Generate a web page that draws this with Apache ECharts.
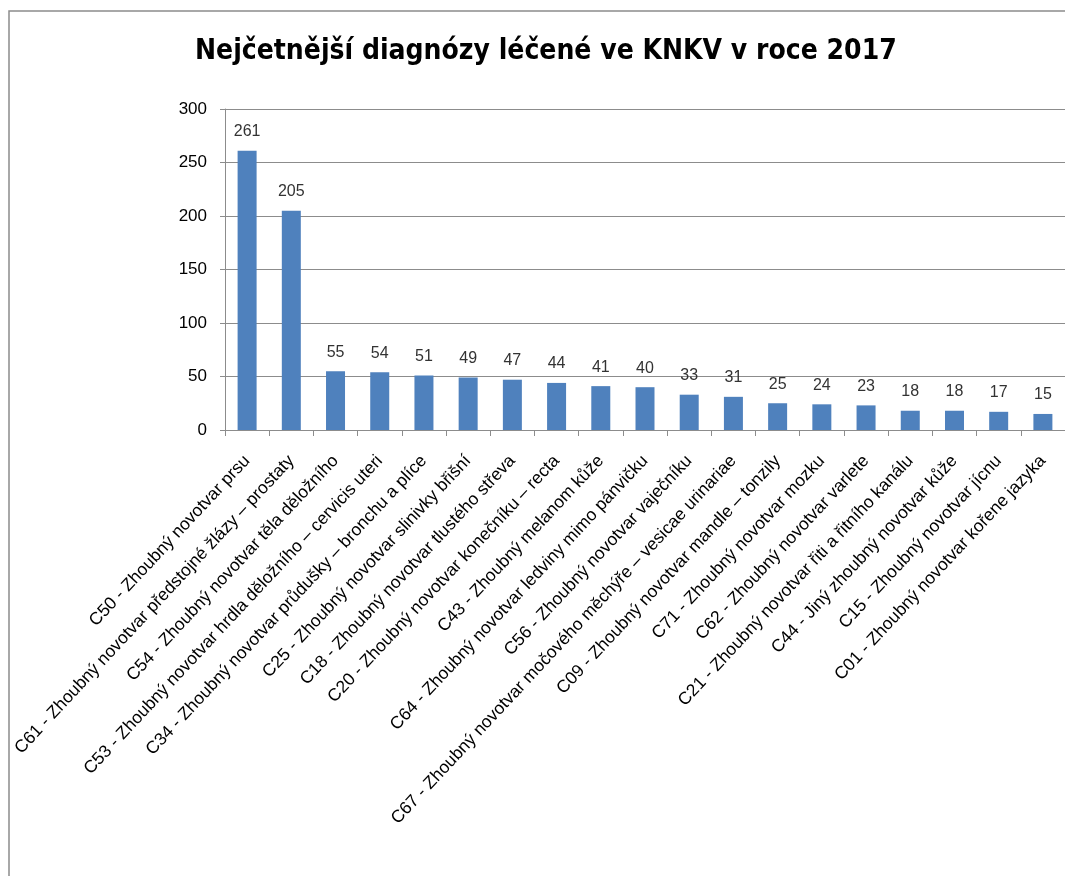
<!DOCTYPE html>
<html>
<head>
<meta charset="utf-8">
<script src="https://cdn.jsdelivr.net/npm/echarts@6/dist/echarts.min.js"></script>
<style>
  html, body { margin: 0; padding: 0; background: #fff; }
  #chart { width: 1065px; height: 876px; }
</style>
</head>
<body>
<div id="chart"></div>
<script>
const titleText = 'Nejčetnější diagnózy léčené ve KNKV v roce 2017';

const categories = [
  'C50 - Zhoubný novotvar prsu',
  'C61 - Zhoubný novotvar předstojné žlázy – prostaty',
  'C54 - Zhoubný novotvar těla děložního',
  'C53 - Zhoubný novotvar hrdla děložního – cervicis uteri',
  'C34 - Zhoubný novotvar průdušky – bronchu a plíce',
  'C25 - Zhoubný novotvar slinivky břišní',
  'C18 - Zhoubný novotvar tlustého střeva',
  'C20 - Zhoubný novotvar konečníku – recta',
  'C43 - Zhoubný melanom kůže',
  'C64 - Zhoubný novotvar ledviny mimo pánvičku',
  'C56 - Zhoubný novotvar vaječníku',
  'C67 - Zhoubný novotvar močového měchýře – vesicae urinariae',
  'C09 - Zhoubný novotvar mandle – tonzily',
  'C71 - Zhoubný novotvar mozku',
  'C62 - Zhoubný novotvar varlete',
  'C21 - Zhoubný novotvar řiti a řitního kanálu',
  'C44 - Jiný zhoubný novotvar kůže',
  'C15 - Zhoubný novotvar jícnu',
  'C01 - Zhoubný novotvar kořene jazyka'
];

const counts = [261, 205, 55, 54, 51, 49, 47, 44, 41, 40, 33, 31, 25, 24, 23, 18, 18, 17, 15];

const yTicks = { min: 0, max: 300, interval: 50 };

const TITLE_FONT = '"DejaVu Sans Condensed", "Liberation Sans", sans-serif';
const LABEL_FONT = '"Liberation Sans", "DejaVu Sans", sans-serif';

const chart = echarts.init(document.getElementById('chart'), null, { renderer: 'canvas' });

chart.setOption({
  backgroundColor: '#ffffff',
  animation: false,
  graphic: [
    {
      // chart-area frame
      type: 'rect',
      shape: { x: 9, y: 11, width: 1100, height: 900 },
      style: { fill: 'none', stroke: '#8c8c8c', lineWidth: 1.5 },
      silent: true,
      z: -1
    }
  ],
  title: {
    text: titleText,
    left: 190,
    top: 33,
    textStyle: {
      fontFamily: TITLE_FONT,
      fontWeight: 'bold',
      fontSize: 28,
      color: '#000'
    }
  },
  grid: {
    left: 225,
    right: -3,
    top: 109,
    bottom: 446,
    containLabel: false
  },
  xAxis: {
    type: 'category',
    data: categories,
    axisLine: { show: true, lineStyle: { color: '#8c8c8c', width: 1 } },
    axisTick: { show: true, alignWithLabel: false, length: 6, lineStyle: { color: '#8c8c8c' } },
    axisLabel: {
      interval: 0,
      rotate: 47,
      margin: 28,
      fontFamily: LABEL_FONT,
      fontSize: 17.5,
      color: '#000'
    }
  },
  yAxis: {
    type: 'value',
    min: yTicks.min,
    max: yTicks.max,
    interval: yTicks.interval,
    axisLine: { show: true, lineStyle: { color: '#8c8c8c', width: 1 } },
    axisTick: { show: true, inside: false, length: 5, lineStyle: { color: '#8c8c8c' } },
    axisLabel: {
      margin: 18,
      fontFamily: LABEL_FONT,
      fontSize: 17,
      color: '#000'
    },
    splitLine: { show: true, lineStyle: { color: '#8c8c8c', width: 1 } }
  },
  series: [
    {
      type: 'bar',
      data: counts,
      barWidth: 19,
      itemStyle: { color: '#4f81bd' },
      label: {
        show: true,
        position: 'top',
        distance: 11,
        fontFamily: LABEL_FONT,
        fontSize: 16,
        color: '#333'
      }
    }
  ]
});
</script>
</body>
</html>
